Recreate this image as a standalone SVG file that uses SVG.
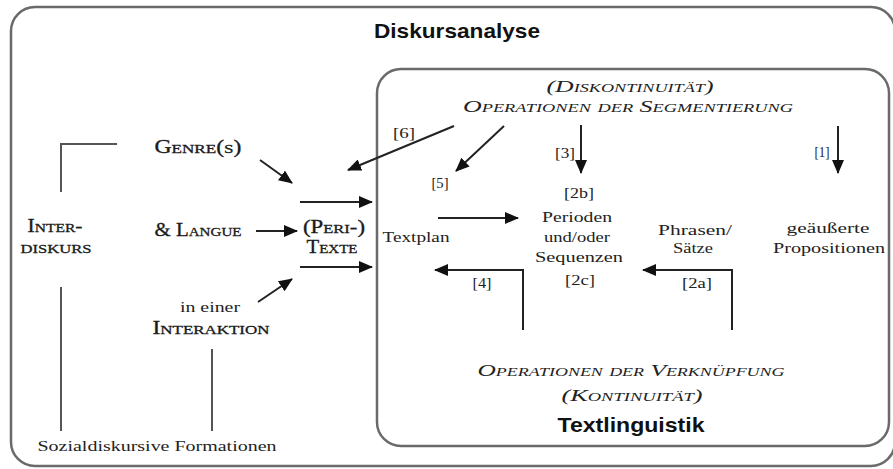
<svg xmlns="http://www.w3.org/2000/svg" width="893" height="469" viewBox="0 0 893 469">
<defs>
<style>
.box{fill:none;stroke:#6a6a6a;stroke-width:2.5}
.ln{fill:none;stroke:#555;stroke-width:2}
.ar{fill:none;stroke:#222;stroke-width:2;marker-end:url(#ah)}
.ti{font-family:"Liberation Sans",Arial,sans-serif;font-weight:bold;font-size:21px;fill:#111}
.rs{font-family:"Liberation Serif","DejaVu Serif",serif;font-size:15px;fill:#222}
.sc{font-family:"Liberation Serif","DejaVu Serif",serif;font-size:18px;font-variant:small-caps;fill:#1a1a1a;stroke:#1a1a1a;stroke-width:0.3}
.isc{font-family:"Liberation Serif","DejaVu Serif",serif;font-size:17px;font-variant:small-caps;font-style:italic;fill:#222}
</style>
<marker id="ah" markerUnits="userSpaceOnUse" markerWidth="14" markerHeight="12" refX="13" refY="6" orient="auto">
<path d="M0,0 L14,6 L0,12 Z" fill="#111"/>
</marker>
</defs>
<rect width="893" height="469" fill="#fff"/>
<g id="outer">
<rect class="box" x="11" y="7" width="884" height="459" rx="24"/>
<text class="ti" x="457" y="38" text-anchor="middle" textLength="166" lengthAdjust="spacingAndGlyphs">Diskursanalyse</text>
</g>
<g id="inner">
<rect class="box" x="377" y="69" width="512" height="377" rx="24"/>
<text class="ti" x="631" y="432" text-anchor="middle" textLength="147" lengthAdjust="spacingAndGlyphs">Textlinguistik</text>
</g>
<g id="segmentierung">
<text class="isc" x="630" y="92" text-anchor="middle" textLength="167" lengthAdjust="spacingAndGlyphs">(Diskontinuität)</text>
<text class="isc" x="628" y="112" text-anchor="middle" textLength="330" lengthAdjust="spacingAndGlyphs">Operationen der Segmentierung</text>
</g>
<g id="verknuepfung">
<text class="isc" x="631" y="376" text-anchor="middle" textLength="307" lengthAdjust="spacingAndGlyphs">Operationen der Verknüpfung</text>
<text class="isc" x="632" y="401" text-anchor="middle" textLength="141" lengthAdjust="spacingAndGlyphs">(Kontinuität)</text>
</g>
<g id="genre"><text class="sc" x="198" y="153" text-anchor="middle" textLength="87" lengthAdjust="spacingAndGlyphs">Genre(s)</text></g>
<g id="interdiskurs">
<text class="sc" x="55" y="232" text-anchor="middle" textLength="55" lengthAdjust="spacingAndGlyphs">Inter-</text>
<text class="sc" x="56" y="253" text-anchor="middle" textLength="71" lengthAdjust="spacingAndGlyphs">diskurs</text>
</g>
<g id="langue"><text class="sc" x="198" y="236" text-anchor="middle" textLength="87" lengthAdjust="spacingAndGlyphs">&amp; Langue</text></g>
<g id="texte">
<text class="sc" x="334" y="233" text-anchor="middle" textLength="62" lengthAdjust="spacingAndGlyphs">(Peri-)</text>
<text class="sc" x="332" y="253" text-anchor="middle" textLength="51" lengthAdjust="spacingAndGlyphs">Texte</text>
</g>
<g id="interaktion">
<text class="rs" x="210" y="312" text-anchor="middle" textLength="60" lengthAdjust="spacingAndGlyphs">in einer</text>
<text class="sc" x="211" y="334" text-anchor="middle" textLength="117" lengthAdjust="spacingAndGlyphs">Interaktion</text>
</g>
<g id="sozial"><text class="rs" x="157" y="451" text-anchor="middle" textLength="239" lengthAdjust="spacingAndGlyphs">Sozialdiskursive Formationen</text></g>
<g id="textplan"><text class="rs" x="416" y="242" text-anchor="middle" textLength="67" lengthAdjust="spacingAndGlyphs">Textplan</text></g>
<g id="perioden">
<text class="rs" x="579" y="198" text-anchor="middle" textLength="30" lengthAdjust="spacingAndGlyphs">[2b]</text>
<text class="rs" x="577" y="222" text-anchor="middle" textLength="70" lengthAdjust="spacingAndGlyphs">Perioden</text>
<text class="rs" x="577" y="242" text-anchor="middle" textLength="66" lengthAdjust="spacingAndGlyphs">und/oder</text>
<text class="rs" x="579" y="262" text-anchor="middle" textLength="88" lengthAdjust="spacingAndGlyphs">Sequenzen</text>
<text class="rs" x="580" y="285" text-anchor="middle" textLength="30" lengthAdjust="spacingAndGlyphs">[2c]</text>
</g>
<g id="phrasen">
<text class="rs" x="695" y="235" text-anchor="middle" textLength="74" lengthAdjust="spacingAndGlyphs">Phrasen/</text>
<text class="rs" x="693" y="253" text-anchor="middle" textLength="40" lengthAdjust="spacingAndGlyphs">Sätze</text>
</g>
<g id="propositionen">
<text class="rs" x="828" y="233" text-anchor="middle" textLength="83" lengthAdjust="spacingAndGlyphs">geäußerte</text>
<text class="rs" x="829" y="253" text-anchor="middle" textLength="112" lengthAdjust="spacingAndGlyphs">Propositionen</text>
</g>
<g id="labels">
<text class="rs" x="404" y="138" text-anchor="middle" textLength="22" lengthAdjust="spacingAndGlyphs">[6]</text>
<text class="rs" x="565" y="158" text-anchor="middle" textLength="20" lengthAdjust="spacingAndGlyphs">[3]</text>
<text class="rs" x="822" y="157" text-anchor="middle" textLength="15" lengthAdjust="spacingAndGlyphs">[1]</text>
<text class="rs" x="440" y="188" text-anchor="middle" textLength="17" lengthAdjust="spacingAndGlyphs">[5]</text>
<text class="rs" x="482" y="288" text-anchor="middle" textLength="19" lengthAdjust="spacingAndGlyphs">[4]</text>
<text class="rs" x="697" y="288" text-anchor="middle" textLength="30" lengthAdjust="spacingAndGlyphs">[2a]</text>
</g>
<g id="connectors">
<path class="ln" d="M117,144 H61 V192"/>
<path class="ln" d="M61,287 V431"/>
<path class="ln" d="M212,349 V431"/>
<path class="ar" d="M260,160 L292,183"/>
<path class="ar" d="M300,202 L372,202"/>
<path class="ar" d="M256,231 L297,231"/>
<path class="ar" d="M300,267 L372,267"/>
<path class="ar" d="M258,302 L292,279"/>
<path class="ar" d="M454,126 L348,170"/>
<path class="ar" d="M504,126 L456,171"/>
<path class="ar" d="M581,125 L581,173"/>
<path class="ar" d="M838,126 L838,173"/>
<path class="ar" d="M438,218 L518,218"/>
<path class="ar" d="M523,330 V270 H435"/>
<path class="ar" d="M732,330 V270 H643"/>
</g>
</svg>
